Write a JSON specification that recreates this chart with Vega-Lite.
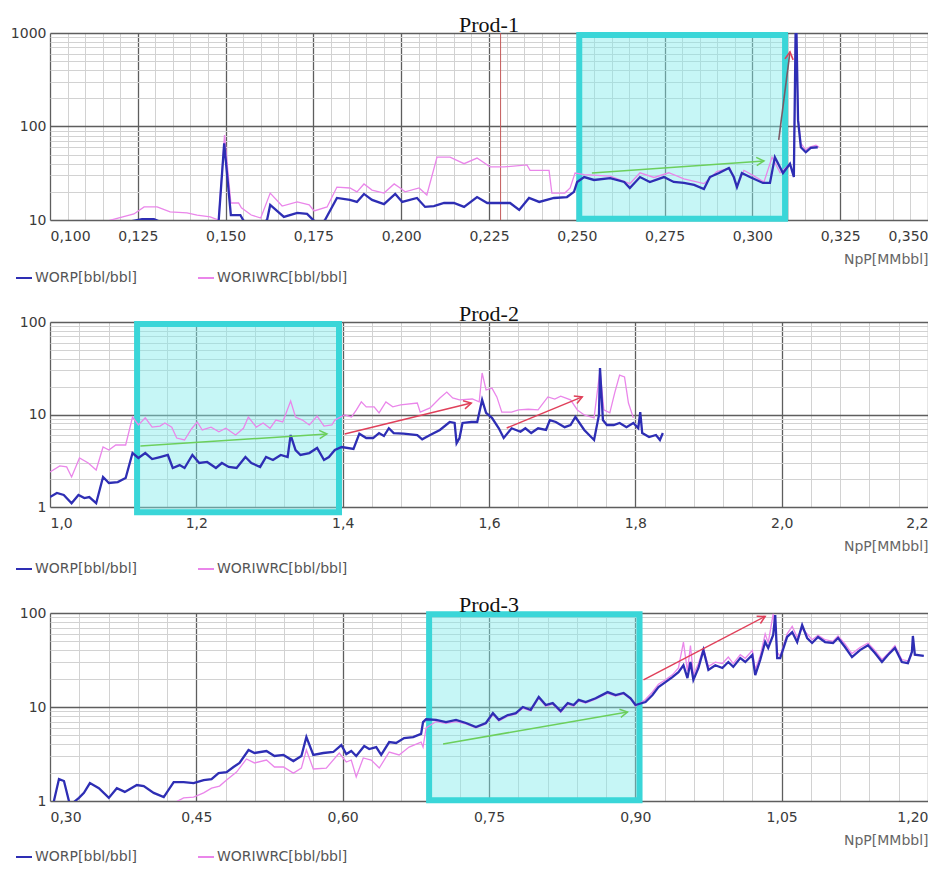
{
  "$schema": "https://vega.github.io/schema/vega-lite/v6.json",
  "background": "white",
  "padding": {"left": 10, "top": 14, "right": 0, "bottom": 0},
  "spacing": 18,
  "resolve": {"scale": {"color": "independent"}, "legend": {"color": "independent"}},
  "datasets": {
    "p1w": [{"x":0.1165,"v":9.8},{"x":0.1239,"v":11.6},{"x":0.1268,"v":13.8},{"x":0.1305,"v":13.8},{"x":0.1342,"v":12.2},{"x":0.139,"v":11.9},{"x":0.1419,"v":11.3},{"x":0.1456,"v":10.8},{"x":0.148,"v":10},{"x":0.1497,"v":81},{"x":0.1515,"v":15.2},{"x":0.1537,"v":15.2},{"x":0.1545,"v":13.5},{"x":0.1573,"v":11.3},{"x":0.16,"v":10.5},{"x":0.1627,"v":19.4},{"x":0.1661,"v":14.1},{"x":0.1704,"v":15.6},{"x":0.1738,"v":14.5},{"x":0.1752,"v":12.5},{"x":0.1789,"v":13.8},{"x":0.1817,"v":22.5},{"x":0.1854,"v":22},{"x":0.1874,"v":20},{"x":0.1894,"v":24.3},{"x":0.1917,"v":20.9},{"x":0.1951,"v":19.4},{"x":0.198,"v":24.3},{"x":0.1997,"v":22},{"x":0.2011,"v":20},{"x":0.2051,"v":22},{"x":0.2073,"v":18.5},{"x":0.2102,"v":47},{"x":0.2139,"v":47},{"x":0.2179,"v":40},{"x":0.2216,"v":46},{"x":0.2253,"v":37},{"x":0.2293,"v":37},{"x":0.2358,"v":38.8},{"x":0.2367,"v":34},{"x":0.2421,"v":34},{"x":0.2429,"v":19.4},{"x":0.2466,"v":19.4},{"x":0.2481,"v":22},{"x":0.2495,"v":31.8},{"x":0.2521,"v":30.5},{"x":0.2595,"v":29.5},{"x":0.2651,"v":24.5},{"x":0.268,"v":32},{"x":0.272,"v":28.5},{"x":0.2762,"v":32},{"x":0.2805,"v":27.5},{"x":0.2862,"v":24.5},{"x":0.2899,"v":33},{"x":0.2936,"v":36},{"x":0.2956,"v":23},{"x":0.2976,"v":34},{"x":0.3005,"v":29.5},{"x":0.3033,"v":25.5},{"x":0.3056,"v":47},{"x":0.3079,"v":32},{"x":0.3107,"v":40},{"x":0.3118,"v":28.8},{"x":0.3124,"v":2000},{"x":0.313,"v":120},{"x":0.3138,"v":66},{"x":0.3152,"v":56},{"x":0.3161,"v":60},{"x":0.3181,"v":63},{"x":0.319,"v":60}],
    "p1b": [{"x":0.1219,"v":9.5},{"x":0.1262,"v":10.2},{"x":0.1296,"v":10.2},{"x":0.1322,"v":9.3},{"x":0.145,"v":9},{"x":0.148,"v":9.5},{"x":0.1496,"v":66},{"x":0.1515,"v":11.3},{"x":0.1542,"v":11.3},{"x":0.155,"v":10},{"x":0.1563,"v":9},{"x":0.16,"v":9},{"x":0.1618,"v":10},{"x":0.1627,"v":14.5},{"x":0.1666,"v":10.8},{"x":0.1704,"v":11.9},{"x":0.1732,"v":11.6},{"x":0.1752,"v":9.8},{"x":0.177,"v":9},{"x":0.1783,"v":10},{"x":0.1817,"v":17.2},{"x":0.1854,"v":16.4},{"x":0.1874,"v":15.6},{"x":0.1894,"v":19},{"x":0.1917,"v":16.4},{"x":0.1951,"v":14.8},{"x":0.1983,"v":19},{"x":0.2003,"v":15.6},{"x":0.2045,"v":17.2},{"x":0.2068,"v":13.8},{"x":0.2093,"v":14.1},{"x":0.2122,"v":15.2},{"x":0.215,"v":15.2},{"x":0.2179,"v":13.8},{"x":0.2216,"v":17.6},{"x":0.2245,"v":15.2},{"x":0.2273,"v":15.2},{"x":0.231,"v":15.2},{"x":0.2336,"v":12.8},{"x":0.2364,"v":17.2},{"x":0.2393,"v":15.6},{"x":0.2435,"v":17.2},{"x":0.2472,"v":17.6},{"x":0.2492,"v":20},{"x":0.2501,"v":25.5},{"x":0.2521,"v":28.8},{"x":0.2549,"v":26.8},{"x":0.2595,"v":28},{"x":0.2635,"v":25.5},{"x":0.2651,"v":22},{"x":0.268,"v":28.8},{"x":0.2708,"v":25.5},{"x":0.2748,"v":28.8},{"x":0.2776,"v":25.5},{"x":0.2805,"v":24.9},{"x":0.2834,"v":23.7},{"x":0.2862,"v":21.4},{"x":0.2879,"v":28.8},{"x":0.2905,"v":31.8},{"x":0.2933,"v":36},{"x":0.2947,"v":28.8},{"x":0.2956,"v":22.5},{"x":0.297,"v":31.8},{"x":0.2993,"v":28.8},{"x":0.303,"v":24.9},{"x":0.305,"v":24.9},{"x":0.3064,"v":47},{"x":0.3087,"v":31.8},{"x":0.3107,"v":40},{"x":0.3118,"v":28.8},{"x":0.3124,"v":2000},{"x":0.313,"v":117},{"x":0.3138,"v":60},{"x":0.3152,"v":53},{"x":0.3166,"v":59},{"x":0.3186,"v":60}],
    "p2w": [{"x":1.0,"v":2.39},{"x":1.0134,"v":2.78},{"x":1.0228,"v":2.71},{"x":1.0295,"v":2.11},{"x":1.0403,"v":3.39},{"x":1.0523,"v":2.99},{"x":1.0631,"v":2.51},{"x":1.0725,"v":4.45},{"x":1.0805,"v":4.13},{"x":1.0899,"v":4.68},{"x":1.1034,"v":4.68},{"x":1.1128,"v":9.4},{"x":1.1208,"v":7.7},{"x":1.1302,"v":9.2},{"x":1.1396,"v":7.3},{"x":1.1503,"v":7.5},{"x":1.157,"v":8.1},{"x":1.1664,"v":7.3},{"x":1.1732,"v":5.57},{"x":1.1839,"v":5.3},{"x":1.1933,"v":6.97},{"x":1.2013,"v":8.3},{"x":1.2081,"v":6.8},{"x":1.2201,"v":7.3},{"x":1.2309,"v":6.5},{"x":1.2403,"v":7.1},{"x":1.2537,"v":6.0},{"x":1.2644,"v":7.1},{"x":1.2711,"v":9.4},{"x":1.2819,"v":7.3},{"x":1.2913,"v":8.1},{"x":1.3007,"v":7.1},{"x":1.3087,"v":8.7},{"x":1.3181,"v":8.3},{"x":1.3289,"v":14.0},{"x":1.3356,"v":9.4},{"x":1.345,"v":8.7},{"x":1.3544,"v":7.7},{"x":1.3651,"v":9.6},{"x":1.3745,"v":7.5},{"x":1.3852,"v":7.7},{"x":1.3893,"v":8.7},{"x":1.4027,"v":9.9},{"x":1.4121,"v":9.4},{"x":1.4188,"v":11.2},{"x":1.4255,"v":13.7},{"x":1.4322,"v":12.1},{"x":1.443,"v":12.1},{"x":1.4497,"v":10.4},{"x":1.4591,"v":13.7},{"x":1.4685,"v":12.1},{"x":1.4792,"v":12.7},{"x":1.502,"v":13.3},{"x":1.506,"v":10.6},{"x":1.5195,"v":11.8},{"x":1.5329,"v":15.1},{"x":1.5423,"v":17.5},{"x":1.5503,"v":15.1},{"x":1.5597,"v":14.4},{"x":1.5772,"v":14.7},{"x":1.5866,"v":13.7},{"x":1.5906,"v":28.1},{"x":1.596,"v":18.4},{"x":1.604,"v":19.3},{"x":1.6107,"v":15.5},{"x":1.6175,"v":10.6},{"x":1.6309,"v":10.6},{"x":1.6403,"v":11.2},{"x":1.6537,"v":11.4},{"x":1.6671,"v":11.2},{"x":1.6805,"v":15.5},{"x":1.6899,"v":14.7},{"x":1.698,"v":15.8},{"x":1.7114,"v":14.4},{"x":1.7208,"v":11.2},{"x":1.7302,"v":9.9},{"x":1.7436,"v":9.2},{"x":1.7517,"v":30.2},{"x":1.757,"v":11.2},{"x":1.7651,"v":10.4},{"x":1.7718,"v":17.1},{"x":1.7785,"v":26.7},{"x":1.7852,"v":25.5},{"x":1.7906,"v":13.3},{"x":1.7973,"v":9.2}],
    "p2b": [{"x":1.0,"v":1.28},{"x":1.0094,"v":1.42},{"x":1.0188,"v":1.35},{"x":1.0295,"v":1.1},{"x":1.0389,"v":1.35},{"x":1.047,"v":1.25},{"x":1.0537,"v":1.28},{"x":1.0631,"v":1.1},{"x":1.0725,"v":2.11},{"x":1.0805,"v":1.82},{"x":1.0926,"v":1.86},{"x":1.1034,"v":2.06},{"x":1.1128,"v":3.83},{"x":1.1208,"v":3.39},{"x":1.1302,"v":3.83},{"x":1.1396,"v":3.3},{"x":1.1503,"v":3.47},{"x":1.1611,"v":3.65},{"x":1.1678,"v":2.64},{"x":1.1772,"v":2.84},{"x":1.1839,"v":2.64},{"x":1.1946,"v":3.65},{"x":1.204,"v":2.99},{"x":1.2148,"v":3.07},{"x":1.2268,"v":2.64},{"x":1.2349,"v":2.99},{"x":1.2443,"v":2.71},{"x":1.255,"v":2.64},{"x":1.2671,"v":3.47},{"x":1.2752,"v":2.99},{"x":1.2872,"v":2.71},{"x":1.2953,"v":3.47},{"x":1.3047,"v":3.22},{"x":1.3154,"v":3.65},{"x":1.3248,"v":3.47},{"x":1.3289,"v":6.0},{"x":1.3356,"v":4.13},{"x":1.3423,"v":3.65},{"x":1.3544,"v":3.83},{"x":1.3651,"v":4.35},{"x":1.3745,"v":3.22},{"x":1.3812,"v":3.47},{"x":1.3893,"v":4.13},{"x":1.3987,"v":4.45},{"x":1.4148,"v":4.24},{"x":1.4228,"v":6.2},{"x":1.4322,"v":5.57},{"x":1.4416,"v":5.57},{"x":1.4497,"v":6.3},{"x":1.4564,"v":5.85},{"x":1.4631,"v":7.1},{"x":1.4698,"v":6.3},{"x":1.4832,"v":6.2},{"x":1.502,"v":6.0},{"x":1.5087,"v":5.4},{"x":1.5195,"v":6.0},{"x":1.5329,"v":6.8},{"x":1.5463,"v":8.3},{"x":1.553,"v":8.1},{"x":1.5557,"v":4.9},{"x":1.5597,"v":5.57},{"x":1.5638,"v":8.1},{"x":1.5758,"v":8.3},{"x":1.5839,"v":8.3},{"x":1.5906,"v":14.4},{"x":1.596,"v":10.4},{"x":1.604,"v":9.2},{"x":1.6134,"v":7.1},{"x":1.6201,"v":5.57},{"x":1.6309,"v":7.1},{"x":1.643,"v":6.5},{"x":1.6497,"v":7.1},{"x":1.6577,"v":6.3},{"x":1.6671,"v":7.1},{"x":1.6779,"v":6.8},{"x":1.6832,"v":8.7},{"x":1.6913,"v":8.3},{"x":1.7034,"v":7.3},{"x":1.7114,"v":7.7},{"x":1.7181,"v":9.4},{"x":1.7302,"v":6.8},{"x":1.7436,"v":5.3},{"x":1.7503,"v":9.9},{"x":1.7517,"v":31.8},{"x":1.7557,"v":8.7},{"x":1.7611,"v":7.7},{"x":1.7705,"v":7.7},{"x":1.7785,"v":8.1},{"x":1.7879,"v":7.3},{"x":1.7973,"v":8.1},{"x":1.804,"v":7.1},{"x":1.8067,"v":10.6},{"x":1.8094,"v":6.3},{"x":1.8188,"v":5.7},{"x":1.8282,"v":6.0},{"x":1.8336,"v":5.3},{"x":1.8376,"v":6.3}],
    "p3w": [{"x":0.4268,"v":0.95},{"x":0.437,"v":1.08},{"x":0.4472,"v":1.1},{"x":0.4575,"v":1.22},{"x":0.4656,"v":1.37},{"x":0.4738,"v":1.44},{"x":0.481,"v":1.67},{"x":0.4912,"v":2.03},{"x":0.5014,"v":2.8},{"x":0.5096,"v":2.54},{"x":0.5219,"v":2.73},{"x":0.5301,"v":2.3},{"x":0.5393,"v":2.3},{"x":0.5495,"v":1.98},{"x":0.5577,"v":2.24},{"x":0.5628,"v":3.49},{"x":0.5699,"v":2.19},{"x":0.5832,"v":2.24},{"x":0.5965,"v":3.24},{"x":0.6037,"v":2.6},{"x":0.6088,"v":2.73},{"x":0.6139,"v":1.8},{"x":0.6211,"v":2.87},{"x":0.6293,"v":2.73},{"x":0.6375,"v":2.24},{"x":0.6477,"v":3.32},{"x":0.6579,"v":3.09},{"x":0.6681,"v":3.75},{"x":0.6804,"v":4.24},{"x":0.6824,"v":3.75},{"x":0.6855,"v":5.98},{"x":0.6957,"v":7.0},{"x":0.7059,"v":6.7},{"x":0.7162,"v":7.0},{"x":0.7264,"v":6.6},{"x":0.7366,"v":6.0},{"x":0.7468,"v":6.6},{"x":0.754,"v":8.3},{"x":0.7601,"v":7.1},{"x":0.7693,"v":8.0},{"x":0.7775,"v":8.4},{"x":0.7847,"v":9.7},{"x":0.7928,"v":9.1},{"x":0.801,"v":12.4},{"x":0.8082,"v":10.2},{"x":0.8153,"v":10.7},{"x":0.8235,"v":8.8},{"x":0.8307,"v":10.7},{"x":0.8368,"v":10.2},{"x":0.8419,"v":11.6},{"x":0.8491,"v":11.0},{"x":0.8593,"v":12.1},{"x":0.8716,"v":14.0},{"x":0.8798,"v":13.1},{"x":0.888,"v":13.8},{"x":0.8951,"v":12.1},{"x":0.9002,"v":10.2},{"x":0.9104,"v":12},{"x":0.9176,"v":14.5},{"x":0.9237,"v":17.5},{"x":0.9309,"v":19.5},{"x":0.938,"v":22},{"x":0.9442,"v":26},{"x":0.9493,"v":49},{"x":0.9534,"v":24},{"x":0.9565,"v":45},{"x":0.9595,"v":22},{"x":0.9647,"v":29},{"x":0.9698,"v":42},{"x":0.9749,"v":27},{"x":0.982,"v":30},{"x":0.9892,"v":29},{"x":0.9953,"v":34},{"x":1.0004,"v":29},{"x":1.0076,"v":36},{"x":1.0127,"v":33},{"x":1.0199,"v":40},{"x":1.0229,"v":25},{"x":1.028,"v":35},{"x":1.0331,"v":60},{"x":1.0362,"v":48},{"x":1.0413,"v":98},{"x":1.0434,"v":70},{"x":1.0454,"v":38},{"x":1.0485,"v":35},{"x":1.0556,"v":60},{"x":1.0608,"v":72},{"x":1.0659,"v":55},{"x":1.071,"v":68},{"x":1.0761,"v":60},{"x":1.0812,"v":52},{"x":1.0873,"v":58},{"x":1.0945,"v":52},{"x":1.1027,"v":50},{"x":1.1078,"v":57},{"x":1.1149,"v":47},{"x":1.1221,"v":37},{"x":1.1303,"v":43},{"x":1.1385,"v":48},{"x":1.1456,"v":40},{"x":1.1528,"v":32},{"x":1.1589,"v":37},{"x":1.1661,"v":45},{"x":1.1732,"v":32},{"x":1.1794,"v":31},{"x":1.1835,"v":36}],
    "p3b": [{"x":0.303,"v":0.9},{"x":0.3092,"v":1.71},{"x":0.3143,"v":1.63},{"x":0.3205,"v":0.9},{"x":0.3297,"v":1.08},{"x":0.3348,"v":1.22},{"x":0.3409,"v":1.55},{"x":0.3501,"v":1.37},{"x":0.3603,"v":1.08},{"x":0.3685,"v":1.37},{"x":0.3767,"v":1.25},{"x":0.389,"v":1.48},{"x":0.3961,"v":1.44},{"x":0.4063,"v":1.22},{"x":0.4166,"v":1.1},{"x":0.4268,"v":1.59},{"x":0.437,"v":1.59},{"x":0.4472,"v":1.55},{"x":0.4575,"v":1.67},{"x":0.4656,"v":1.71},{"x":0.4728,"v":1.98},{"x":0.481,"v":2.03},{"x":0.4881,"v":2.3},{"x":0.4943,"v":2.54},{"x":0.5035,"v":3.49},{"x":0.5096,"v":3.24},{"x":0.5219,"v":3.4},{"x":0.5301,"v":3.01},{"x":0.5393,"v":3.09},{"x":0.5495,"v":2.66},{"x":0.5577,"v":3.01},{"x":0.5628,"v":4.79},{"x":0.5699,"v":3.09},{"x":0.5802,"v":3.24},{"x":0.5904,"v":3.32},{"x":0.5986,"v":3.94},{"x":0.6037,"v":3.16},{"x":0.6088,"v":3.4},{"x":0.6139,"v":3.01},{"x":0.6221,"v":3.84},{"x":0.6272,"v":3.57},{"x":0.6344,"v":3.75},{"x":0.6395,"v":3.09},{"x":0.6477,"v":4.24},{"x":0.6548,"v":4.14},{"x":0.663,"v":4.67},{"x":0.6722,"v":4.79},{"x":0.6804,"v":5.17},{"x":0.6824,"v":6.9},{"x":0.6855,"v":7.4},{"x":0.6957,"v":7.3},{"x":0.7059,"v":6.9},{"x":0.7162,"v":7.3},{"x":0.7264,"v":6.76},{"x":0.7366,"v":6.13},{"x":0.7468,"v":6.76},{"x":0.754,"v":8.6},{"x":0.7601,"v":7.3},{"x":0.7693,"v":8.2},{"x":0.7775,"v":8.6},{"x":0.7847,"v":10.0},{"x":0.7928,"v":9.3},{"x":0.801,"v":12.8},{"x":0.8082,"v":10.5},{"x":0.8153,"v":11.0},{"x":0.8235,"v":9.06},{"x":0.8307,"v":11.0},{"x":0.8368,"v":10.5},{"x":0.8419,"v":11.9},{"x":0.8491,"v":11.3},{"x":0.8593,"v":12.4},{"x":0.8716,"v":14.4},{"x":0.8798,"v":13.4},{"x":0.888,"v":14.1},{"x":0.8951,"v":12.4},{"x":0.9002,"v":10.5},{"x":0.9104,"v":11.3},{"x":0.9176,"v":13.4},{"x":0.9237,"v":16.3},{"x":0.9309,"v":18.4},{"x":0.938,"v":20.8},{"x":0.9442,"v":23.5},{"x":0.9493,"v":27.8},{"x":0.9534,"v":20.3},{"x":0.9565,"v":30.1},{"x":0.9595,"v":19.4},{"x":0.9647,"v":26.0},{"x":0.9698,"v":40.3},{"x":0.9749,"v":24.8},{"x":0.982,"v":27.8},{"x":0.9892,"v":26.0},{"x":0.9953,"v":30.1},{"x":1.0004,"v":26.7},{"x":1.0076,"v":33.1},{"x":1.0127,"v":30.1},{"x":1.0199,"v":35.8},{"x":1.0229,"v":21.8},{"x":1.028,"v":31.6},{"x":1.0331,"v":49.1},{"x":1.0362,"v":42.4},{"x":1.0413,"v":58.3},{"x":1.0434,"v":95},{"x":1.0454,"v":33.1},{"x":1.0485,"v":33.1},{"x":1.0556,"v":55.6},{"x":1.0608,"v":62.7},{"x":1.0659,"v":49.1},{"x":1.071,"v":74.5},{"x":1.0761,"v":54.2},{"x":1.0812,"v":48},{"x":1.0873,"v":55.6},{"x":1.0945,"v":49.1},{"x":1.1027,"v":48},{"x":1.1078,"v":54.2},{"x":1.1149,"v":43.5},{"x":1.1221,"v":34.0},{"x":1.1303,"v":40.3},{"x":1.1385,"v":45.4},{"x":1.1456,"v":37.6},{"x":1.1528,"v":30.1},{"x":1.1589,"v":35.8},{"x":1.1661,"v":42.4},{"x":1.1732,"v":30.1},{"x":1.1794,"v":29.3},{"x":1.1835,"v":38.5},{"x":1.1845,"v":57},{"x":1.1865,"v":36},{"x":1.1957,"v":35}]
  },
  "vconcat": [
    {
      "width": 878, "height": 187,
      "title": {"text": "Prod-1"},
      "layer": [
        {
          "data": {"values": [{"x": 0.2507, "x2": 0.3093, "y": 950, "y2": 10.3}]},
          "mark": {"type": "rect", "fill": "#80eaea", "fillOpacity": 0.45, "stroke": "#3ad6d8", "strokeWidth": 6, "clip": false},
          "encoding": {
            "x": {"field": "x", "type": "quantitative", "scale": {"domain": [0.1, 0.35], "nice": false, "zero": false},
              "axis": {"title": "NpP[MMbbl]", "tickCount": 200,
                "values": [0.1,0.105,0.11,0.115,0.12,0.125,0.13,0.135,0.14,0.145,0.15,0.155,0.16,0.165,0.17,0.175,0.18,0.185,0.19,0.195,0.2,0.205,0.21,0.215,0.22,0.225,0.23,0.235,0.24,0.245,0.25,0.255,0.26,0.265,0.27,0.275,0.28,0.285,0.29,0.295,0.3,0.305,0.31,0.315,0.32,0.325,0.33,0.335,0.34,0.345,0.35],
                "labelExpr": "abs(datum.value*40-round(datum.value*40))<0.01 ? replace(format(datum.value,'.3f'),'.',',') : ''",
                "gridColor": {"condition": {"test": "abs(datum.value*40-round(datum.value*40))<0.01", "value": "#5e5e5e"}, "value": "#d2d2d2"},
                "gridWidth": {"condition": {"test": "abs(datum.value*40-round(datum.value*40))<0.01", "value": 1.3}, "value": 1}}},
            "x2": {"field": "x2"},
            "y": {"field": "y", "type": "quantitative", "scale": {"type": "log", "domain": [10, 1000], "nice": false},
              "axis": {"title": null, "tickCount": 200,
                "values": [10,20,30,40,50,60,70,80,90,100,200,300,400,500,600,700,800,900,1000],
                "labelExpr": "abs(log(datum.value)/LN10-round(log(datum.value)/LN10))<0.01 ? format(datum.value,'d') : ''",
                "gridColor": {"condition": {"test": "abs(log(datum.value)/LN10-round(log(datum.value)/LN10))<0.01", "value": "#5e5e5e"}, "value": "#d2d2d2"},
                "gridWidth": {"condition": {"test": "abs(log(datum.value)/LN10-round(log(datum.value)/LN10))<0.01", "value": 1.3}, "value": 1}}},
            "y2": {"field": "y2"}
          }
        },
        {
          "data": {"values": [{"x": 0.2283}]},
          "mark": {"type": "rule", "color": "#c45a5a", "strokeWidth": 1},
          "encoding": {"x": {"field": "x", "type": "quantitative"}}
        },
        {
          "data": {"name": "p1w"},
          "mark": {"type": "line", "strokeWidth": 1.3, "clip": true},
          "encoding": {
            "x": {"field": "x", "type": "quantitative"},
            "y": {"field": "v", "type": "quantitative"},
            "color": {"datum": "WORIWRC[bbl/bbl]", "type": "nominal", "scale": {"domain": ["WORP[bbl/bbl]", "WORIWRC[bbl/bbl]"], "range": ["#2e2eb4", "#ea86ea"]}, "legend": {"legendX": -35, "legendY": 236}}
          }
        },
        {
          "data": {"name": "p1b"},
          "mark": {"type": "line", "strokeWidth": 2.3, "clip": true},
          "encoding": {
            "x": {"field": "x", "type": "quantitative"},
            "y": {"field": "v", "type": "quantitative"},
            "color": {"datum": "WORP[bbl/bbl]", "type": "nominal", "scale": {"domain": ["WORP[bbl/bbl]", "WORIWRC[bbl/bbl]"], "range": ["#2e2eb4", "#ea86ea"]}, "legend": {"legendX": -35, "legendY": 236}}
          }
        },
        {
          "data": {"values": [{"x": 0.2543, "y": 31.8, "x2": 0.3033, "y2": 42.8}]},
          "layer": [
            {"mark": {"type": "rule", "color": "#6ccf5c", "strokeWidth": 1.5}, "encoding": {"x": {"field": "x", "type": "quantitative"}, "y": {"field": "y", "type": "quantitative"}, "x2": {"field": "x2"}, "y2": {"field": "y2"}}},
            {"mark": {"type": "point", "shape": "M-1,-0.55L0,0L-1,0.55", "filled": false, "stroke": "#6ccf5c", "strokeWidth": 1.5, "size": 225, "angle": -4, "opacity": 1}, "encoding": {"x": {"field": "x2", "type": "quantitative"}, "y": {"field": "y2", "type": "quantitative"}}}
          ]
        },
        {
          "data": {"values": [{"x": 0.3075, "y": 71.8, "x2": 0.3107, "y2": 627}]},
          "layer": [
            {"mark": {"type": "rule", "color": "#7a5a66", "strokeWidth": 1.6}, "encoding": {"x": {"field": "x", "type": "quantitative"}, "y": {"field": "y", "type": "quantitative"}, "x2": {"field": "x2"}, "y2": {"field": "y2"}}},
            {"mark": {"type": "point", "shape": "M-1,-0.55L0,0L-1,0.55", "filled": false, "stroke": "#e0405a", "strokeWidth": 1.6, "size": 225, "angle": -83, "opacity": 1}, "encoding": {"x": {"field": "x2", "type": "quantitative"}, "y": {"field": "y2", "type": "quantitative"}}}
          ]
        }
      ]
    },
    {
      "width": 878, "height": 185,
      "title": {"text": "Prod-2"},
      "layer": [
        {
          "data": {"values": [{"x": 1.119, "x2": 1.395, "y": 95, "y2": 0.88}]},
          "mark": {"type": "rect", "fill": "#80eaea", "fillOpacity": 0.45, "stroke": "#3ad6d8", "strokeWidth": 6, "clip": false},
          "encoding": {
            "x": {"field": "x", "type": "quantitative", "scale": {"domain": [1.0, 2.2], "nice": false, "zero": false},
              "axis": {"title": "NpP[MMbbl]", "tickCount": 200,
                "values": [1,1.04,1.08,1.12,1.16,1.2,1.24,1.28,1.32,1.36,1.4,1.44,1.48,1.52,1.56,1.6,1.64,1.68,1.72,1.76,1.8,1.84,1.88,1.92,1.96,2,2.04,2.08,2.12,2.16,2.2],
                "labelExpr": "abs(datum.value*5-round(datum.value*5))<0.01 ? replace(format(datum.value,'.1f'),'.',',') : ''",
                "gridColor": {"condition": {"test": "abs(datum.value*5-round(datum.value*5))<0.01", "value": "#5e5e5e"}, "value": "#d2d2d2"},
                "gridWidth": {"condition": {"test": "abs(datum.value*5-round(datum.value*5))<0.01", "value": 1.3}, "value": 1}}},
            "x2": {"field": "x2"},
            "y": {"field": "y", "type": "quantitative", "scale": {"type": "log", "domain": [1, 100], "nice": false},
              "axis": {"title": null, "tickCount": 200,
                "values": [1,2,3,4,5,6,7,8,9,10,20,30,40,50,60,70,80,90,100],
                "labelExpr": "abs(log(datum.value)/LN10-round(log(datum.value)/LN10))<0.01 ? format(datum.value,'d') : ''",
                "gridColor": {"condition": {"test": "abs(log(datum.value)/LN10-round(log(datum.value)/LN10))<0.01", "value": "#5e5e5e"}, "value": "#d2d2d2"},
                "gridWidth": {"condition": {"test": "abs(log(datum.value)/LN10-round(log(datum.value)/LN10))<0.01", "value": 1.3}, "value": 1}}},
            "y2": {"field": "y2"}
          }
        },
        {
          "data": {"name": "p2w"},
          "mark": {"type": "line", "strokeWidth": 1.3, "clip": true},
          "encoding": {
            "x": {"field": "x", "type": "quantitative"},
            "y": {"field": "v", "type": "quantitative"},
            "color": {"datum": "WORIWRC[bbl/bbl]", "type": "nominal", "scale": {"domain": ["WORP[bbl/bbl]", "WORIWRC[bbl/bbl]"], "range": ["#2e2eb4", "#ea86ea"]}, "legend": {"legendX": -35, "legendY": 238}}
          }
        },
        {
          "data": {"name": "p2b"},
          "mark": {"type": "line", "strokeWidth": 2.3, "clip": true},
          "encoding": {
            "x": {"field": "x", "type": "quantitative"},
            "y": {"field": "v", "type": "quantitative"},
            "color": {"datum": "WORP[bbl/bbl]", "type": "nominal", "scale": {"domain": ["WORP[bbl/bbl]", "WORIWRC[bbl/bbl]"], "range": ["#2e2eb4", "#ea86ea"]}, "legend": {"legendX": -35, "legendY": 238}}
          }
        },
        {
          "data": {"values": [{"x": 1.1235, "y": 4.57, "x2": 1.3785, "y2": 6.16}]},
          "layer": [
            {"mark": {"type": "rule", "color": "#6ccf5c", "strokeWidth": 1.5}, "encoding": {"x": {"field": "x", "type": "quantitative"}, "y": {"field": "y", "type": "quantitative"}, "x2": {"field": "x2"}, "y2": {"field": "y2"}}},
            {"mark": {"type": "point", "shape": "M-1,-0.55L0,0L-1,0.55", "filled": false, "stroke": "#6ccf5c", "strokeWidth": 1.5, "size": 225, "angle": -3.7, "opacity": 1}, "encoding": {"x": {"field": "x2", "type": "quantitative"}, "y": {"field": "y2", "type": "quantitative"}}}
          ]
        },
        {
          "data": {"values": [{"x": 1.4027, "y": 6.16, "x2": 1.5758, "y2": 13.3}]},
          "layer": [
            {"mark": {"type": "rule", "color": "#e0405a", "strokeWidth": 1.5}, "encoding": {"x": {"field": "x", "type": "quantitative"}, "y": {"field": "y", "type": "quantitative"}, "x2": {"field": "x2"}, "y2": {"field": "y2"}}},
            {"mark": {"type": "point", "shape": "M-1,-0.55L0,0L-1,0.55", "filled": false, "stroke": "#e0405a", "strokeWidth": 1.5, "size": 225, "angle": -13.7, "opacity": 1}, "encoding": {"x": {"field": "x2", "type": "quantitative"}, "y": {"field": "y2", "type": "quantitative"}}}
          ]
        },
        {
          "data": {"values": [{"x": 1.6242, "y": 7.15, "x2": 1.7275, "y2": 15.5}]},
          "layer": [
            {"mark": {"type": "rule", "color": "#e0405a", "strokeWidth": 1.5}, "encoding": {"x": {"field": "x", "type": "quantitative"}, "y": {"field": "y", "type": "quantitative"}, "x2": {"field": "x2"}, "y2": {"field": "y2"}}},
            {"mark": {"type": "point", "shape": "M-1,-0.55L0,0L-1,0.55", "filled": false, "stroke": "#e0405a", "strokeWidth": 1.5, "size": 225, "angle": -22.3, "opacity": 1}, "encoding": {"x": {"field": "x2", "type": "quantitative"}, "y": {"field": "y2", "type": "quantitative"}}}
          ]
        }
      ]
    },
    {
      "width": 878, "height": 188,
      "title": {"text": "Prod-3"},
      "layer": [
        {
          "data": {"values": [{"x": 0.6886, "x2": 0.9043, "y": 97, "y2": 1.02}]},
          "mark": {"type": "rect", "fill": "#80eaea", "fillOpacity": 0.45, "stroke": "#3ad6d8", "strokeWidth": 6, "clip": false},
          "encoding": {
            "x": {"field": "x", "type": "quantitative", "scale": {"domain": [0.3, 1.2], "nice": false, "zero": false},
              "axis": {"title": "NpP[MMbbl]", "tickCount": 200,
                "values": [0.3,0.33,0.36,0.39,0.42,0.45,0.48,0.51,0.54,0.57,0.6,0.63,0.66,0.69,0.72,0.75,0.78,0.81,0.84,0.87,0.9,0.93,0.96,0.99,1.02,1.05,1.08,1.11,1.14,1.17,1.2],
                "labelExpr": "abs(datum.value/0.15-round(datum.value/0.15))<0.01 ? replace(format(datum.value,'.2f'),'.',',') : ''",
                "gridColor": {"condition": {"test": "abs(datum.value/0.15-round(datum.value/0.15))<0.01", "value": "#5e5e5e"}, "value": "#d2d2d2"},
                "gridWidth": {"condition": {"test": "abs(datum.value/0.15-round(datum.value/0.15))<0.01", "value": 1.3}, "value": 1}}},
            "x2": {"field": "x2"},
            "y": {"field": "y", "type": "quantitative", "scale": {"type": "log", "domain": [1, 100], "nice": false},
              "axis": {"title": null, "tickCount": 200,
                "values": [1,2,3,4,5,6,7,8,9,10,20,30,40,50,60,70,80,90,100],
                "labelExpr": "abs(log(datum.value)/LN10-round(log(datum.value)/LN10))<0.01 ? format(datum.value,'d') : ''",
                "gridColor": {"condition": {"test": "abs(log(datum.value)/LN10-round(log(datum.value)/LN10))<0.01", "value": "#5e5e5e"}, "value": "#d2d2d2"},
                "gridWidth": {"condition": {"test": "abs(log(datum.value)/LN10-round(log(datum.value)/LN10))<0.01", "value": 1.3}, "value": 1}}},
            "y2": {"field": "y2"}
          }
        },
        {
          "data": {"name": "p3w"},
          "mark": {"type": "line", "strokeWidth": 1.3, "clip": true},
          "encoding": {
            "x": {"field": "x", "type": "quantitative"},
            "y": {"field": "v", "type": "quantitative"},
            "color": {"datum": "WORIWRC[bbl/bbl]", "type": "nominal", "scale": {"domain": ["WORP[bbl/bbl]", "WORIWRC[bbl/bbl]"], "range": ["#2e2eb4", "#ea86ea"]}, "legend": {"legendX": -35, "legendY": 235}}
          }
        },
        {
          "data": {"name": "p3b"},
          "mark": {"type": "line", "strokeWidth": 2.3, "clip": true},
          "encoding": {
            "x": {"field": "x", "type": "quantitative"},
            "y": {"field": "v", "type": "quantitative"},
            "color": {"datum": "WORP[bbl/bbl]", "type": "nominal", "scale": {"domain": ["WORP[bbl/bbl]", "WORIWRC[bbl/bbl]"], "range": ["#2e2eb4", "#ea86ea"]}, "legend": {"legendX": -35, "legendY": 235}}
          }
        },
        {
          "data": {"values": [{"x": 0.7029, "y": 4.04, "x2": 0.892, "y2": 8.85}]},
          "layer": [
            {"mark": {"type": "rule", "color": "#6ccf5c", "strokeWidth": 1.5}, "encoding": {"x": {"field": "x", "type": "quantitative"}, "y": {"field": "y", "type": "quantitative"}, "x2": {"field": "x2"}, "y2": {"field": "y2"}}},
            {"mark": {"type": "point", "shape": "M-1,-0.55L0,0L-1,0.55", "filled": false, "stroke": "#6ccf5c", "strokeWidth": 1.5, "size": 225, "angle": -9.8, "opacity": 1}, "encoding": {"x": {"field": "x2", "type": "quantitative"}, "y": {"field": "y2", "type": "quantitative"}}}
          ]
        },
        {
          "data": {"values": [{"x": 0.9084, "y": 19.4, "x2": 1.0331, "y2": 92}]},
          "layer": [
            {"mark": {"type": "rule", "color": "#e0405a", "strokeWidth": 1.5}, "encoding": {"x": {"field": "x", "type": "quantitative"}, "y": {"field": "y", "type": "quantitative"}, "x2": {"field": "x2"}, "y2": {"field": "y2"}}},
            {"mark": {"type": "point", "shape": "M-1,-0.55L0,0L-1,0.55", "filled": false, "stroke": "#e0405a", "strokeWidth": 1.5, "size": 225, "angle": -27.5, "opacity": 1}, "encoding": {"x": {"field": "x2", "type": "quantitative"}, "y": {"field": "y2", "type": "quantitative"}}}
          ]
        }
      ]
    }
  ],
  "config": {
    "view": {"stroke": null},
    "axis": {"ticks": false, "tickSize": 0, "domain": false, "grid": true, "gridOpacity": 1, "labelFont": "DejaVu Sans", "labelFontSize": 14, "labelColor": "#3a3a3a", "titleFont": "DejaVu Sans", "titleFontSize": 14, "titleFontWeight": "normal", "titleColor": "#666666", "labelOverlap": false, "labelBound": false},
    "axisX": {"labelPadding": 9, "labelFlush": true, "titleAnchor": "end", "titlePadding": 9},
    "axisY": {"labelPadding": 4},
    "title": {"font": "Liberation Serif", "fontSize": 22, "fontWeight": "normal", "color": "#111111", "anchor": "middle", "offset": -11},
    "legend": {"orient": "none", "direction": "horizontal", "title": null, "labelFont": "DejaVu Sans", "labelFontSize": 14, "labelColor": "#555555", "symbolType": "stroke", "symbolSize": 256, "symbolStrokeWidth": 2, "labelOffset": 2, "columnPadding": 57, "padding": 0}
  }
}
